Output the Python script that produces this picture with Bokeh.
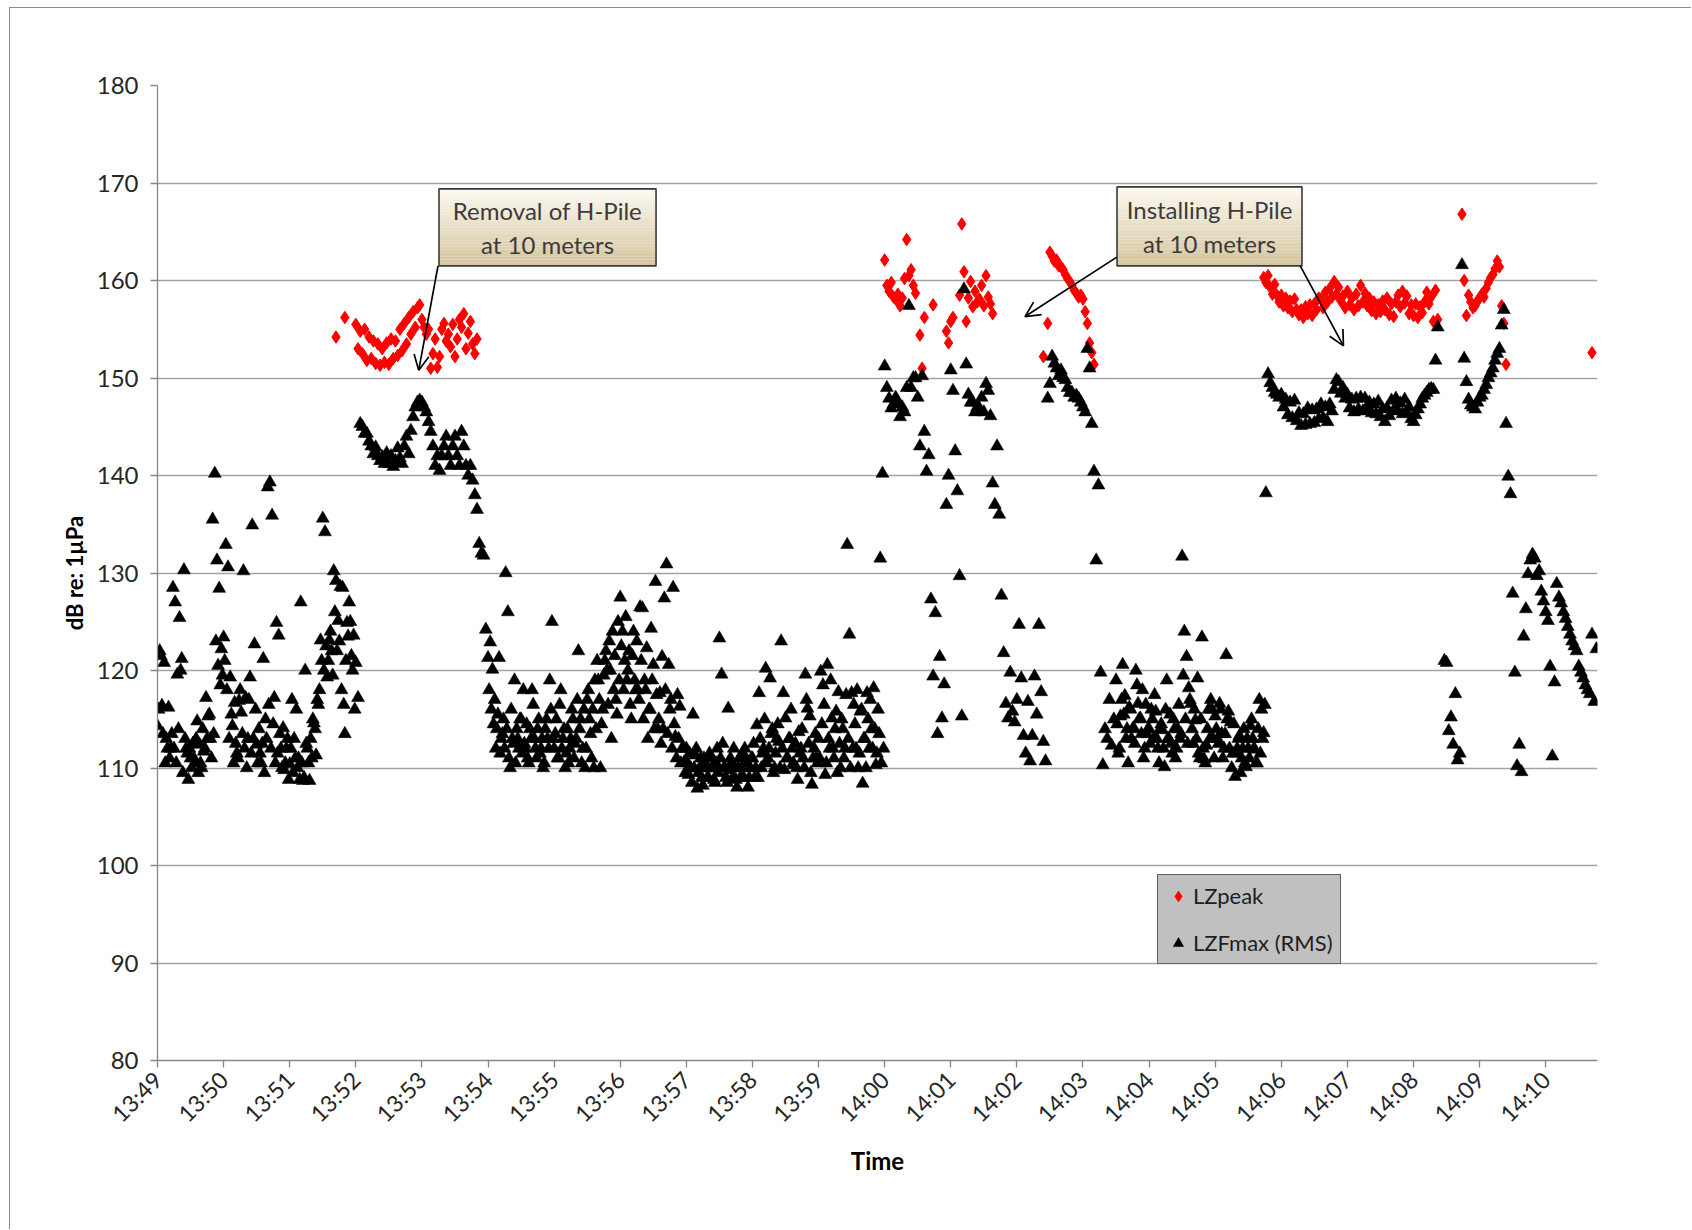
from math import pi

import numpy as np
from bokeh.core.properties import value
from bokeh.embed import file_html
from bokeh.models import (Arrow, DatetimeTickFormatter, FixedTicker,
                          Legend, LegendItem, OpenHead, Range1d)
from bokeh.plotting import figure
from bokeh.resources import INLINE

# ---------------------------------------------------------------------------
# Sound level meter log starting 13:49:00, values in dB re: 1 uPa.
# Each list holds readings 2 s apart; None = no reading.
# ---------------------------------------------------------------------------
START_CLOCK_S = 13 * 3600 + 49 * 60
STEP_S = 2

# LZFmax (RMS), even seconds, one list per clock minute
lzfmax_1349 = [114.3, 122, 116.4, 120.8, 113, 116.2, 112, 128.5, 127, 119.6, 125.4, 121.2, 130.3, 112, 108.8,
               111, 112.5, 110.5, 114.8, 112.4, 110, 111.7, 117.2, 115.3, 113, 135.5, 140.2, 131.3, 128.4, 122.2]
lzfmax_1350 = [123.4, 132.9, 130.6, 119.3, 114.3, 116.7, 111.5, 116.9, 115.7, 130.2, 117.2, 113, 119.3, 134.9, 122.7,
               112.4, 114, 110.5, 121.2, 115, 138.8, 139.3, 135.9, 117.2, 124.9, 123.6, 112, 114.1, 110.5, 113]
lzfmax_1351 = [110.4, 117, 113, 116, 111, 127, 108.7, 120, 112, 108.7, 111, 114.6, 111.3, 116.5, 123.1,
               135.6, 134.2, 119.3, 123.1, 122, 130.2, 129.2, 125.1, 128.6, 128.5, 113.5, 124.9, 127, 121.5, 123.6]
lzfmax_1352 = [120.8, 117.2, 145.3, 145, 144.3, 144.3, 143.5, 143, 142.2, 142.9, 142, 141.5, 141.9, 141.2, 142.3,
               141.2, 142, 140.9, 141.5, 142.8, 141.8, 141.2, 143, 144, 142.2, 144.6, 146, 147, 147.5, 147.7]
lzfmax_1353 = [147.5, 147, 146.5, 145.5, 144.5, 143, 141, 142, 140.5, 142, 143, 144, 142, 141, 143,
               144, 142, 141, 144.5, 143, 141, 140, 141, 139.5, 138, 136.5, 133, 132, 131.8, 124.2]
lzfmax_1354 = [121.3, 122.9, 120.1, 117, 114, 121.3, 113, 115, 130, 126, 110, 113, 119, 114, 112,
               115, 118, 112, 111, 114, 118, 113, 111, 115, 112, 110, 114, 113, 119, 125]
lzfmax_1355 = [112, 115, 111, 118, 113, 110, 114, 112, 116, 111, 113, 122, 115, 112, 110,
               117, 115, 111, 110, 114, 119, 110, 116, 121, 120, 123, 113, 118, 117, 125]
lzfmax_1356 = [127.5, 124, 121, 119, 122, 115, 124, 118, 118, 126.5, 126.4, 119, 122.3, 116, 124.3,
               120.6, 129.1, 114, 117.7, 121.4, 127.4, 130.9, 120.6, 117, 128.5, 113.2, 117.5, 116.3, 112, 110.6]
lzfmax_1357 = [112, 109.3, 110, 115.5, 111.3, 107.9, 110, 109, 111, 110, 109, 111, 110, 108.5, 112,
               123.3, 119.6, 110, 109, 116.1, 111, 109, 110, 108, 111, 110, 109, 111, 108, 110]
lzfmax_1358 = [111, 109, 114.4, 117.7, 110, 112, 120.2, 111, 119.2, 114, 110, 113, 112.7, 123, 117.7,
               115.1, 111, 113, 112, 110.3, 110, 113.7, 112, 111, 119.6, 116.1, 115.3, 108.3, 112, 111]
lzfmax_1359 = [113, 119.9, 118.5, 109.3, 120.6, 112, 115.1, 111, 115.8, 117.8, 110, 114, 112, 132.9, 123.7,
               117.7, 116.5, 112, 110, 115.8, 108.4, 113, 117.7, 112, 114, 118.2, 110.3, 116, 131.5, 140.2]
lzfmax_1400 = [151.2, 149, 147.9, 146.9, 147.3, 148, 147.5, 146, 147, 146.5, 149, 157.4, 149, 150, 150,
               148, 143, 150.2, 144.5, 140.4, 142.1, 127.3, 119.4, 125.9, 113.5, 121.4, 115.1, 118.6, 137, 140]
lzfmax_1401 = [150.8, 148.7, 142.5, 138.4, 129.7, 115.3, 159.1, 151.4, 148.3, 147.5, 147.5, 146.5, 147, 146.9, 148,
               146.5, 149.4, 148.7, 146.1, 139.2, 137, 143, 136, 127.7, 121.8, 116.6, 115.1, 119.8, 115.8, 114.7]
lzfmax_1402 = [117, 124.7, 119.2, 113.3, 111.5, 116.8, 110.7, 113.3, 119.4, 115.5, 124.7, 117.8, 112.7, 110.7, 147.9,
               149.4, 152.2, 151.5, 151, 150.2, 150.8, 150, 149.8, 149, 148.5, 148.5, 148, 148.2, 147.9, 147.5]
lzfmax_1403 = [147, 146.5, 153, 151, 145.3, 140.4, 131.3, 139, 119.8, 110.3, 114, 113, 117, 112.3, 115,
               119, 111.5, 115.3, 120.6, 117.4, 114, 116.2, 113, 114.1, 120, 116.6, 115.1, 118, 112, 113.5]
lzfmax_1404 = [114, 116, 113, 115.8, 112, 114, 113.9, 110.1, 119, 113, 112.5, 115, 111, 114, 113,
               131.7, 124, 121.4, 118.2, 116.6, 112.5, 114.9, 119.2, 111, 123.4, 110.9, 112.3, 116, 117, 113]
lzfmax_1405 = [115.3, 113, 116.6, 113.5, 112, 121.6, 115.8, 114.7, 111.5, 109.1, 112, 113.3, 111, 114, 110.1,
               112, 114.3, 113, 111.9, 110.5, 117, 116, 113.6, 138.2, 150.4, 149.5, 149, 148.5, 148.3, 148]
lzfmax_1406 = [148.3, 147, 147.8, 146.2, 147.5, 145.9, 147.7, 145.6, 146.4, 145.1, 146.3, 145.2, 146.9, 145.3, 146.7,
               145.4, 146.8, 145.8, 147.3, 145.9, 147, 145.5, 147.3, 146.6, 148.8, 149.8, 149.6, 148.4, 149, 147.9]
lzfmax_1407 = [148.3, 146.9, 147.8, 146.5, 147.9, 146.8, 148, 146.6, 147.9, 146.7, 147.5, 146.4, 147.3, 146.3, 147.6,
               146, 146.8, 145.5, 146.9, 146.1, 147.7, 146.7, 147.9, 146.6, 147.4, 146.3, 147.8, 146.4, 147, 145.8]
lzfmax_1408 = [145.5, 146.2, 146.8, 147.3, 147.9, 148.2, 148.5, 148.8, 148.9, 148.8, 151.8, 155.2, None, None, 121,
               120.8, 113.8, 115.2, 112.4, 117.6, 110.8, 111.5, 161.6, 152, 149.6, 147.8, 147.2, 147, 146.8, 147.5]
lzfmax_1409 = [148, 148.2, 148.8, 149.3, 150, 150.5, 151, 151.8, 152.5, 153, 155.4, 157, 145.3, 139.9, 138.1,
               127.9, 119.8, 110.2, 112.4, 109.6, 123.5, 126.3, 129.9, 131.3, 131.9, 131.5, 129.7, 130.2, 128.1, 127.1]
lzfmax_1410 = [126, 125.1, 120.4, 111.2, 118.8, 128.9, 127.5, 126.9, 126, 125.3, 124.5, 123.7, 123, 122.5, 122,
               120.4, 119.8, 119.2, 118.5, 118, 117.6, 123.7, 116.8, 122.2]

lzfmax_even = (lzfmax_1349 + lzfmax_1350 + lzfmax_1351 + lzfmax_1352 + lzfmax_1353 + lzfmax_1354 +
               lzfmax_1355 + lzfmax_1356 + lzfmax_1357 + lzfmax_1358 + lzfmax_1359 + lzfmax_1400 +
               lzfmax_1401 + lzfmax_1402 + lzfmax_1403 + lzfmax_1404 + lzfmax_1405 + lzfmax_1406 +
               lzfmax_1407 + lzfmax_1408 + lzfmax_1409 + lzfmax_1410)

# LZFmax (RMS), odd seconds, kept for the quiet stretches between pile work
lzfmax_odd_1349 = [116, 121.5, 113.5, 110.5, 112, 111, 113.5, 112, 110.5, 114, 120, 109.5, 113, 111.5, 112,
                   110, 111, 113, 109.5, 110.5, 114, 112, 113, 115.5, 111, 113.5, 123, 120.5, 118.5, 119.5]
lzfmax_odd_1350 = [121, 118, 113, 115.5, 110.5, 112.5, 111, 118, 113.5, 112, 110, 117, 111.5, 113, 116,
                   110.5, 111.5, 112.5, 109.5, 113, 116.5, 112, 114.5, 110.5, 111.5, 113.5, 110, 109.8, 112, 108.8]
lzfmax_odd_1351 = [112, 109.5, 111, 110, 108.8, 110.5, 109, 112.5, 110.5, 113, 115, 114, 117, 118, 121,
                   120, 122.5, 121, 124, 119.5, 126, 122, 123, 118, 116.5, 121, 123.5, 125, 120, 116]
lzfmax_odd_1354 = [118, 116, 114.5, 112, 115.5, 111.5, 113.5, 112, 114, 111, 116, 112.5, 110.5, 113, 115,
                   111.5, 112.5, 114.5, 110.5, 113, 116.5, 112, 114, 111.5, 113, 110.5, 115, 112, 116, 113]
lzfmax_odd_1355 = [113.5, 111, 116.5, 112, 114, 111.5, 110.5, 113, 115, 112.5, 117, 114, 110.5, 116, 112,
                   118, 113.5, 116, 119, 121, 117, 114.5, 119.5, 122, 116.5, 120, 124, 121.5, 115.5, 119]
lzfmax_odd_1356 = [122.5, 118, 125.5, 120, 116.5, 121.5, 119, 123, 117, 121, 115, 118, 113, 116, 119,
                   114, 117.5, 115, 112.5, 114, 118, 113.5, 116, 112, 114.5, 111, 113, 110.5, 112, 109.5]
lzfmax_odd_1357 = [110.5, 111.5, 108.5, 110, 112, 109.5, 111, 108.2, 110.5, 109, 111.5, 110, 108.8, 110.5, 109.5,
                   111, 112.5, 110, 108.5, 109.8, 110.5, 112, 108.8, 110, 109, 111.5, 112, 110.5, 109, 111]
lzfmax_odd_1358 = [112.5, 110, 109, 113, 111.5, 115, 110.5, 112, 113.5, 109.5, 111.5, 114.5, 110, 112, 109.8,
                   111, 113, 116, 110.5, 112.5, 108.8, 111.5, 114, 110, 117, 112.5, 109.5, 111, 113.5, 110.5]
lzfmax_odd_1359 = [111, 114.5, 116.5, 110.5, 113, 119, 112, 114, 109.5, 112.5, 115, 111, 117.5, 113, 110,
                   112, 114.5, 118, 111.5, 116, 113, 110, 115, 117, 112, 114, 111.5, 113.5, 110.5, 112]
lzfmax_odd_1403_start = 871
lzfmax_odd_1403 = [114.5, 112, 117, 115.5, 113, 110.5, 116, 114, 112.5, 118.5, 115, 113.5, 111, 116.5, 114]
lzfmax_odd_1404 = [112.5, 115, 117.5, 113, 110.5, 114.5, 112, 116, 113, 115.5, 111.5, 114, 112, 116.5, 113.5,
                   119.5, 115, 112.5, 117, 114, 116, 113, 111.5, 115, 112, 110.5, 114, 113, 116, 111]
lzfmax_odd_1405 = [114, 112.5, 116, 111, 113.5, 115, 112, 110, 114.5, 111.5, 113, 109.5, 112, 110.5, 113,
                   111, 115, 112, 110.5, 114, 111.5, 113, 116.5]

# LZpeak, only logged during pile work: start second after 13:49:00, then readings
lzpeak_removal_start = 162
lzpeak_removal = [154.2, None, None, None, 156.2, None, None, None, None, 155.5, 153, 154.8, 152.5, 155, 151.8,
                  154.2, 152, 153.8, 151.5, 153.5, 151.3, 153, 151.6, 153.6, 151.4, 154, 152, 153.8, 152.3, 155,
                  152.8, 155.6, 153.5, 156.2, 154.5, 156.8, 155.2, 157.2, 157.5, 156, 155.2, 154.5, 155, 151, 152.5,
                  154, 151.1, 152.2, 155, 155.6, 153.8, 154.5, 153.2, 155.5, 152.2, 154, 156, 155.2, 156.6, 153,
                  154.6, 155.8, 153.5, 152.5, 154]
lzpeak_1400_start = 660
lzpeak_1400 = [162.1, 159.5, 158.9, 159.8, 158.3, 158.1, 158.6, 157.4, 158.2, 160.2, 164.2, 160.5, 161.1, 159.5, 158.7,
               None, 154.4, 151, 156.2, None, None, None, 157.5, None, None, None, None, None, 154.8, 153.6,
               155.8, 156.2, None, None, 158.5, 165.8, 160.9, 155.8, 158.2, 159.9, 157.3, 158.9, 157.8, 158.1, 159.5,
               157.4, 160.5, 158.3, 157.6, 156.6]
lzpeak_1402_start = 804
lzpeak_1402 = [152.2, None, 155.6, 162.9, 162.5, 162, 162.1, 161.5, 161.4, 161.1, 160.6, 160.2, 159.9, 159.5, 159,
               158.7, 158.3, 158.5, 158.1, 156.8, 155.6, 153.6, 152.6, 151.4]
lzpeak_install_start = 1004
lzpeak_install = [160.3, 159.8, 160.5, 159.3, 158.6, 159.6, 158.5, 157.8, 158.5, 157.4,
                  158.2, 157.2, 157.9, 156.8, 158.1, 157, 156.5, 157, 156.2, 157.3,
                  156.6, 157.5, 156.4, 157.6, 157, 158.2, 158.1, 157.2, 158.8, 157.8,
                  159.2, 158.3, 159.9, 158.6, 159.3, 157.9, 158.4, 157.2, 158.9, 157.5,
                  158.2, 157, 158.6, 157.4, 159.5, 157.8, 158.7, 157.4, 158.2, 156.9,
                  157.8, 156.6, 157.5, 156.8, 157.9, 157, 158.2, 156.5, 157.6, 156.3,
                  157.8, 158.5, 157.3, 158.9, 157.7, 158.4, 156.6, 157.5, 156.4, 157.6,
                  156.2, 157.3, 156.7, 157.8, 158.8, 157.6, 158.3, 155.8, 159, 156]
lzpeak_1408_start = 1184
lzpeak_1408 = [166.8, 160, 156.4, 158.5, 157.8, 157.2, 157.4, 157.9, 158.2, 158.6, 158.3, 159.2, 159.8, 160.3, 160.6,
               161.2, 162, 161.4, 157.4, 155.6, 151.4]
lzpeak_1410_start = 1302
lzpeak_1410 = [152.6]

# Call-outs: text lines, box extent (s after 13:49:00, dB) and arrows (start -> tip)
callout_texts = [["Removal of H-Pile", "at 10 meters"], ["Installing H-Pile", "at 10 meters"]]
callout_boxes = [(255.5, 452.5, 161.5, 169.4), (870.9, 1038.8, 161.5, 169.6)]
callout_arrows = [(254.6, 161.5, 237.1, 150.8), (870.7, 162.4, 787.4, 156.3), (1037.2, 161.5, 1076.4, 153.3)]

FONT = "Lato"
TICK_MINUTES = list(range(0, 22))
Y_TICKS = list(range(80, 181, 10))


def to_ms(sec):
    return (START_CLOCK_S + np.asarray(sec, dtype=float)) * 1000.0


def series(start, readings):
    t = start + STEP_S * np.arange(len(readings))
    v = np.array([np.nan if r is None else r for r in readings], dtype=float)
    keep = ~np.isnan(v)
    return to_ms(t[keep]), v[keep]


def gather(segments):
    xs, ys = zip(*(series(s, r) for s, r in segments))
    return np.concatenate(xs), np.concatenate(ys)


p = figure(width=1682, height=1222, x_axis_type="datetime",
           x_range=Range1d(to_ms(0), to_ms(1307)), y_range=Range1d(80, 180),
           output_backend="svg", toolbar_location=None,
           min_border_left=147, min_border_right=95, min_border_top=77, min_border_bottom=170)
# thin frame round the chart area, inset from the page corner
p.styles = {"margin-left": "9px", "margin-top": "7px",
            "border-left": "1px solid #8c8c8c", "border-top": "1px solid #8c8c8c"}
p.background_fill_color = "white"
p.border_fill_color = "white"
p.outline_line_color = None

# axes
axis_grey = "#878787"
p.xaxis.ticker = FixedTicker(ticks=[float(to_ms(60 * m)) for m in TICK_MINUTES])
fmt = "%H:%M"
p.xaxis.formatter = DatetimeTickFormatter(milliseconds=fmt, seconds=fmt, minsec=fmt, minutes=fmt,
                                          hourmin=fmt, hours=fmt, days=fmt)
p.yaxis.ticker = FixedTicker(ticks=Y_TICKS)
for ax in (p.xaxis, p.yaxis):
    ax.axis_line_color = axis_grey
    ax.axis_line_width = 1.3
    ax.major_tick_line_color = axis_grey
    ax.major_tick_line_width = 1.3
    ax.major_tick_in = 0
    ax.major_tick_out = 7
    ax.minor_tick_line_color = None
    ax.major_label_text_font = FONT
    ax.major_label_text_color = "#262626"
    ax.axis_label_text_font = FONT
    ax.axis_label_text_font_style = "bold"
    ax.axis_label_text_color = "black"
p.xaxis.major_label_text_font_size = "23px"
p.yaxis.major_label_text_font_size = "24px"
p.xaxis.major_label_orientation = pi / 4
p.xaxis.major_label_standoff = 8
p.xaxis.axis_label = "Time"
p.xaxis.axis_label_text_font_size = "24px"
p.xaxis.axis_label_standoff = 6
p.yaxis.axis_label = "dB re: 1µPa"
p.yaxis.axis_label_text_font_size = "22px"
p.yaxis.major_label_standoff = 12
p.yaxis.axis_label_standoff = 6
p.xgrid.grid_line_color = None
p.ygrid.grid_line_color = "#a3a3a3"
p.ygrid.grid_line_width = 1.3

# call-out boxes: vertical cream-to-tan shading, outline and two lines of text
top_rgb, bot_rgb = np.array([251, 248, 238]), np.array([212, 197, 158])
n_strips = 24
for (t0, t1, b, t), lines in zip(callout_boxes, callout_texts):
    edges = np.linspace(t, b, n_strips + 1)
    cols = ["#%02x%02x%02x" % tuple(np.round(top_rgb + (bot_rgb - top_rgb) * f).astype(int))
            for f in np.linspace(0, 1, n_strips)]
    p.quad(left=[to_ms(t0)] * n_strips, right=[to_ms(t1)] * n_strips,
           top=edges[:-1], bottom=edges[1:], fill_color=cols, line_color=None)
    p.quad(left=[to_ms(t0)], right=[to_ms(t1)], top=[t], bottom=[b],
           fill_color=None, line_color="#3a3a3a", line_width=1.6)
    mid = (t0 + t1) / 2
    p.text(x=[to_ms(mid)] * 2, y=[b + (t - b) * 0.72, b + (t - b) * 0.28], text=lines,
           text_font=value(FONT), text_font_size=value("24px"), text_color="#3b3b3b",
           text_align="center", text_baseline="middle")

for xs, ys, xe, ye in callout_arrows:
    p.add_layout(Arrow(end=OpenHead(size=15, line_width=1.7, line_color="black"),
                       x_start=float(to_ms(xs)), y_start=ys, x_end=float(to_ms(xe)), y_end=ye,
                       line_width=1.7, line_color="black"))

# data
peak_x, peak_y = gather([(lzpeak_removal_start, lzpeak_removal), (lzpeak_1400_start, lzpeak_1400),
                         (lzpeak_1402_start, lzpeak_1402), (lzpeak_install_start, lzpeak_install),
                         (lzpeak_1408_start, lzpeak_1408), (lzpeak_1410_start, lzpeak_1410)])
max_x, max_y = gather([(0, lzfmax_even),
                       (1, lzfmax_odd_1349 + lzfmax_odd_1350 + lzfmax_odd_1351),
                       (301, lzfmax_odd_1354 + lzfmax_odd_1355 + lzfmax_odd_1356 + lzfmax_odd_1357 +
                        lzfmax_odd_1358 + lzfmax_odd_1359),
                       (lzfmax_odd_1403_start, lzfmax_odd_1403 + lzfmax_odd_1404 + lzfmax_odd_1405)])

r_peak = p.scatter(peak_x, peak_y, marker="diamond", size=12.5,
                   fill_color="#ff0000", line_color="#ff0000", line_width=1)
r_max = p.scatter(max_x, max_y, marker="triangle", size=13,
                  fill_color="black", line_color="black", line_width=0.5)

legend = Legend(items=[LegendItem(label="LZpeak", renderers=[r_peak]),
                       LegendItem(label="LZFmax (RMS)", renderers=[r_max])],
                location=(1000, 96), orientation="vertical",
                background_fill_color="#c0c0c0", background_fill_alpha=1.0,
                border_line_color="black", border_line_width=1.2,
                label_text_font=FONT, label_text_font_size="22px", label_text_color="#1e1e1e",
                glyph_width=26, glyph_height=26, label_standoff=2, padding=7, spacing=20, margin=0)
p.add_layout(legend, "center")

open("out.html", "w").write(file_html(p, INLINE))
